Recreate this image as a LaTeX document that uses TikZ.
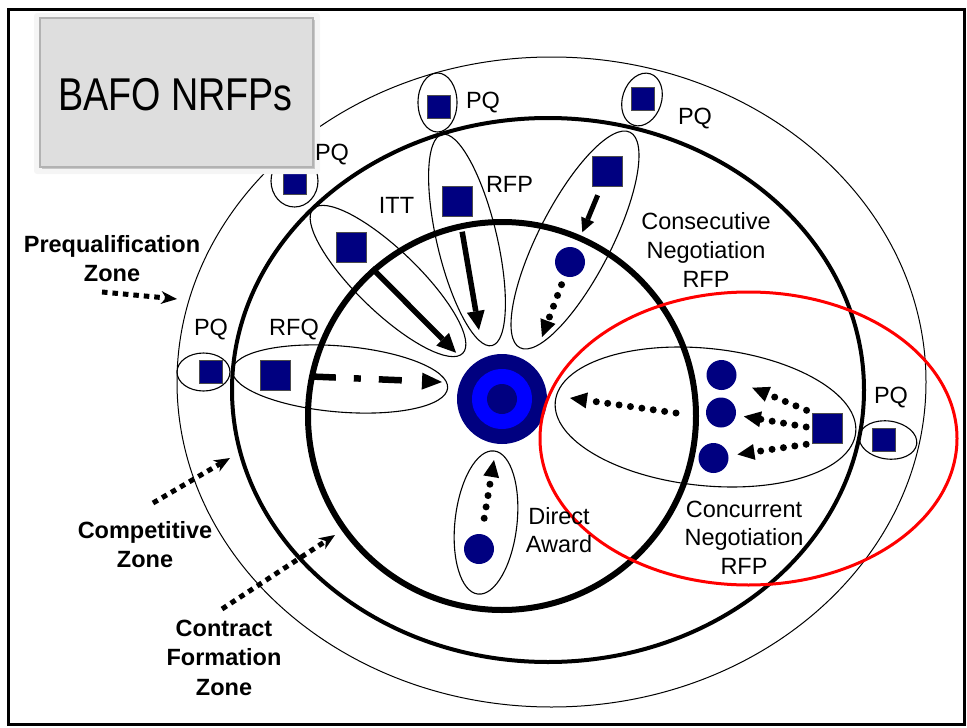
\documentclass[tikz,border=0pt]{standalone}
\usepackage{fontspec}
\setmainfont{Liberation Sans}
\newfontfamily\narrowfont[FakeStretch=0.82]{Liberation Sans}
\usetikzlibrary{arrows.meta,shadows}
\definecolor{navyfill}{HTML}{000080}
\definecolor{brightblue}{HTML}{0000FF}
\definecolor{ringred}{HTML}{FF0000}
\tikzset{
  lbl/.style={font=\fontsize{23.5}{28.7}\selectfont, inner sep=0pt, align=center},
  zonelbl/.style={font=\fontsize{23.5}{29.5}\selectfont\bfseries, inner sep=0pt, align=center},
  bigsq/.style={rectangle, minimum size=30pt, inner sep=0pt, fill=navyfill, draw=black!70, line width=0.8pt},
  smallsq/.style={rectangle, minimum size=23pt, inner sep=0pt, fill=navyfill, draw=black!70, line width=0.8pt},
  navydot/.style={circle, minimum size=30pt, inner sep=0pt, fill=navyfill},
  petal/.style={line width=1.1pt},
  solidarrow/.style={line width=5.5pt, -{Triangle[length=19pt,width=18pt,line width=0pt]}},
  shortarrow/.style={line width=5pt, -{Triangle[length=14pt,width=14pt,line width=0pt]}},
  dotarrow/.style={line width=7pt, line cap=round, dash pattern=on 0pt off 11.5pt,
    -{Triangle[length=17pt,width=16pt,line width=0pt]}},
  dashdotarrow/.style={line width=6.5pt, dash pattern=on 23pt off 18pt on 7pt off 18pt on 23pt off 40pt,
    -{Triangle[length=20pt,width=17pt,line width=0pt]}},
  zonearrow/.style={line width=5pt, dash pattern=on 5.5pt off 5pt,
    -{Stealth[length=16pt,width=13pt,inset=5pt,line width=0pt]}}
}
\begin{document}
\begin{tikzpicture}[x=1pt,y=-1pt]
\useasboundingbox (0,0) rectangle (967,728);

% frame
\draw[line width=3pt] (8,9) rectangle (964,724);

% zone rings
\draw[line width=1pt] (551.5,382) ellipse [x radius=374.5, y radius=325];
\draw[line width=4pt] (548,390) ellipse [x radius=316, y radius=272];
\draw[line width=6pt] (502,416) circle [radius=194];

% petals
\draw[petal, rotate around={-44:(388,281)}] (388,281) ellipse [x radius=104, y radius=31];
\draw[petal, rotate around={-76.7:(467,240)}] (467,240) ellipse [x radius=108.5, y radius=30];
\draw[petal, rotate around={62.9:(575,240)}] (575,240) ellipse [x radius=121, y radius=36.5];
\draw[petal, rotate around={-4.8:(340,379)}] (340,379) ellipse [x radius=108, y radius=33];
\draw[petal, rotate around={-5.9:(705.5,417)}] (705.5,417) ellipse [x radius=151, y radius=68.6];
\draw[petal, rotate around={83.6:(486,522.5)}] (486,522.5) ellipse [x radius=72, y radius=31];

% prequalification loops
\draw[petal] (437.5,102.5) ellipse [x radius=19.5, y radius=29.5];
\draw[petal, rotate around={72:(642,99.5)}] (642,99.5) ellipse [x radius=27, y radius=19.5];
\draw[petal] (294.5,181) ellipse [x radius=23.5, y radius=26];
\draw[petal] (203.5,372) ellipse [x radius=26.5, y radius=19];
\draw[petal, rotate around={-8:(888,440)}] (888,440) ellipse [x radius=29, y radius=19];

% squares
\node[smallsq] (pqTopSq) at (438.5,106.5) {};
\node[smallsq] (pqTopRSq) at (642.5,99) {};
\node[smallsq] (pqUpLSq) at (294.5,182.5) {};
\node[smallsq] (pqLeftSq) at (211,371.5) {};
\node[smallsq] (pqRightSq) at (884,439.5) {};
\node[bigsq] (ittSq) at (351,247) {};
\node[bigsq] (rfpSq) at (457,201.5) {};
\node[bigsq] (conSq) at (607.5,171.5) {};
\node[bigsq] (rfqSq) at (275.5,375) {};
\node[bigsq] (concSq) at (827.5,428) {};

% dots
\node[navydot] (conDot) at (570,262) {};
\node[navydot] (daDot) at (479,549) {};
\node[navydot] (cDot1) at (721.5,375) {};
\node[navydot] (cDot2) at (721,412.5) {};
\node[navydot] (cDot3) at (713.5,458) {};

% contract target
\node[circle, fill=navyfill, minimum size=90pt, inner sep=0pt] (tgt) at (502,399) {};
\node[circle, fill=brightblue, minimum size=60pt, inner sep=0pt] (tgtMid) at (tgt) {};
\node[circle, fill=navyfill, minimum size=30pt, inner sep=0pt] (tgtCore) at (tgt) {};

% negotiation ring
\draw[line width=3pt, ringred] (748.5,438.5) ellipse [x radius=208.5, y radius=146.5];

% arrow end points
\coordinate (rfpTip) at (479,330);
\coordinate (conTip) at (542,337);
\coordinate (rfqTip) at (442,382);
\coordinate (daTip) at (494,460);
\coordinate (cnTail) at (676,413);
\coordinate (cnTip) at (570,398);
\coordinate (pqzFrom) at (102,292);
\coordinate (pqzTo) at (177,299);
\coordinate (cozFrom) at (153,503);
\coordinate (cozTo) at (230,458);
\coordinate (cfzFrom) at (222,609);
\coordinate (cfzTo) at (335,535);

% arrows
\draw[solidarrow, shorten <=8pt, shorten >=20pt] (ittSq) -- (tgt);
\draw[solidarrow, shorten <=15pt] (rfpSq) -- (rfpTip);
\draw[shortarrow, shorten <=9pt, shorten >=17pt] (conSq) -- (conDot);
\draw[dotarrow, shorten <=9pt] (conDot) -- (conTip);
\draw[dashdotarrow, shorten <=22pt] (rfqSq) -- (rfqTip);
\draw[dotarrow, shorten <=16pt] (daDot) -- (daTip);
\draw[dotarrow, shorten <=6pt, shorten >=18pt] (concSq.north west) -- (cDot1);
\draw[dotarrow, shorten <=6pt, shorten >=8pt] (concSq.west) -- (cDot2);
\draw[dotarrow, shorten <=6pt, shorten >=9pt] (concSq.south west) -- (cDot3);
\draw[dotarrow] (cnTail) -- (cnTip);
\draw[zonearrow] (pqzFrom) -- (pqzTo);
\draw[zonearrow] (cozFrom) -- (cozTo);
\draw[zonearrow] (cfzFrom) -- (cfzTo);

% title card with a soft halo
\fill[black!4, rounded corners=3pt] (34,13) rectangle (320,174);
\node[draw=black!30, line width=1.5pt, fill=black!13, minimum width=273pt, minimum height=149pt,
  drop shadow={shadow xshift=1.5pt, shadow yshift=-2pt, opacity=0.18, fill=black}] (title) at (176.5,92.5) {};
\node[anchor=base, inner sep=0pt, font=\narrowfont\fontsize{46}{52}\selectfont] (titleTxt) at (175.5,110.5) {BAFO NRFPs};

% labels
\node[lbl, anchor=base] (pqTopTxt) at (483,108) {PQ};
\node[lbl, anchor=base] (pqTopRTxt) at (695,124) {PQ};
\node[lbl, anchor=base] (pqUpLTxt) at (332,160) {PQ};
\node[lbl, anchor=base] (pqLeftTxt) at (211,335) {PQ};
\node[lbl, anchor=base] (pqRightTxt) at (891,403) {PQ};
\node[lbl, anchor=base] (ittTxt) at (396.5,213) {ITT};
\node[lbl, anchor=base] (rfpTxt) at (509.5,192) {RFP};
\node[lbl, anchor=base] (rfqTxt) at (294,335) {RFQ};
\node[lbl] (consTxt) at (706,250) {Consecutive\\Negotiation\\RFP};
\node[lbl] (concTxt) at (744,537.5) {Concurrent\\Negotiation\\RFP};
\node[lbl] (daTxt) at (559,530) {Direct\\Award};
\node[zonelbl] (pqzTxt) at (112,258.5) {Prequalification\\Zone};
\node[zonelbl] (cozTxt) at (145,544.5) {Competitive\\Zone};
\node[zonelbl] (cfzTxt) at (224,657.5) {Contract\\Formation\\Zone};
\end{tikzpicture}
\end{document}
